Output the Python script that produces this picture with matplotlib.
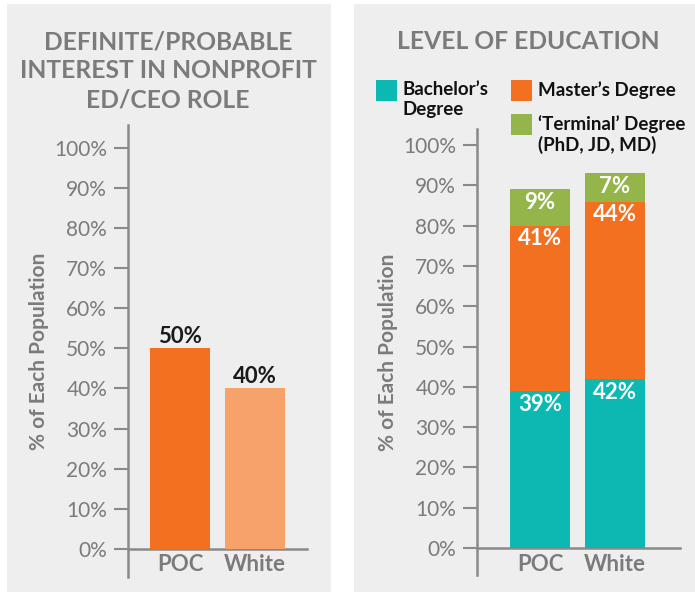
import matplotlib
matplotlib.use("Agg")
import matplotlib.pyplot as plt
from matplotlib.patches import Rectangle
from matplotlib.transforms import blended_transform_factory

plt.rcParams['font.family'] = ['Lato', 'DejaVu Sans']

# ---- data ----
groups = ["POC", "White"]
interest = [50, 40]
bachelor = [39, 42]
master = [41, 44]
terminal = [9, 7]
yticks = [0, 10, 20, 30, 40, 50, 60, 70, 80, 90, 100]
ytick_labels = [f"{v}%" for v in yticks]

W, H = 695, 592
fig = plt.figure(figsize=(W / 100, H / 100), dpi=100)
fig.patch.set_facecolor("white")

BG = "#eeeeee"
GRAY = "#7b7b7b"
AXC = "#8a8a8a"
ORANGE = "#f37021"
LORANGE = "#f7a26a"
TEAL = "#0bb9b2"
GREEN = "#94b54a"


def px(x0, y0, x1, y1):
    return [x0 / W, 1 - y1 / H, (x1 - x0) / W, (y1 - y0) / H]


# panels
fig.patches.append(Rectangle((7 / W, 0), (331 - 7) / W, 1 - 4 / H,
                             transform=fig.transFigure, facecolor=BG, edgecolor="none", zorder=-10))
fig.patches.append(Rectangle((354 / W, 0), (695 - 354) / W, 1 - 4 / H,
                             transform=fig.transFigure, facecolor=BG, edgecolor="none", zorder=-10))


def style_axis(ax, ylo, yhi, xlo, xhi):
    ax.set_facecolor("none")
    ax.set_ylim(ylo, yhi)
    ax.set_xlim(xlo, xhi)
    for s in ["top", "right", "bottom"]:
        ax.spines[s].set_visible(False)
    ax.spines["left"].set_color(AXC)
    ax.spines["left"].set_linewidth(1.8)
    ax.set_yticks(yticks)
    ax.set_yticklabels(ytick_labels)
    ax.tick_params(axis="y", length=10, width=1.5, color=AXC, labelcolor=GRAY,
                   labelsize=15, pad=5)
    ax.set_xticks([])
    tr = blended_transform_factory(ax.transData, ax.transData)
    for i, g in enumerate(groups):
        ax.annotate(g, (i, 0), xytext=(0, -4), textcoords="offset points",
                    ha="center", va="top", fontsize=16, fontweight="bold", color=GRAY)
    ax.axhline(0, color=AXC, lw=1.8, zorder=1, clip_on=False)
    ax.set_ylabel("% of Each Population", fontsize=15, fontweight="bold", color=GRAY, labelpad=4)


# ---- left chart ----
ax1 = fig.add_axes(px(128, 125, 307, 577))
style_axis(ax1, -7, 105.7, -0.693, 1.693)
x = list(range(len(groups)))
ax1.bar(x, interest, width=0.8, color=[ORANGE, LORANGE], zorder=2)
for xi, v in zip(x, interest):
    ax1.annotate(f"{v}%", (xi, v), xytext=(0, 1), textcoords="offset points",
                 ha="center", va="bottom", fontsize=16, fontweight="bold", color="#1a1a1a")
fig.text(168 / W, 1 - 30 / H, "DEFINITE/PROBABLE\nINTEREST IN NONPROFIT\nED/CEO ROLE",
         ha="center", va="top", fontsize=17.7, fontweight="bold", color=GRAY, linespacing=1.33)

# ---- right chart ----
ax2 = fig.add_axes(px(477, 129, 680, 575))
style_axis(ax2, -6.7, 104, -0.84, 1.867)
ax2.bar(x, bachelor, width=0.8, color=TEAL, zorder=2)
ax2.bar(x, master, width=0.8, bottom=bachelor, color=ORANGE, zorder=2)
b2 = [a + b for a, b in zip(bachelor, master)]
ax2.bar(x, terminal, width=0.8, bottom=b2, color=GREEN, zorder=2)
tops = [bachelor, b2, [a + b for a, b in zip(b2, terminal)]]
vals = [bachelor, master, terminal]
for top, val in zip(tops, vals):
    for xi, t, v in zip(x, top, val):
        ax2.annotate(f"{v}%", (xi, t), xytext=(0, -2), textcoords="offset points",
                     ha="center", va="top", fontsize=16, fontweight="bold", color="white")

fig.text(528 / W, 1 - 30 / H, "LEVEL OF EDUCATION", ha="center", va="top",
         fontsize=17.7, fontweight="bold", color=GRAY)

# legend (manual)
leg = [(376, 80, TEAL, "Bachelor’s\nDegree"),
       (511, 80, ORANGE, "Master’s Degree"),
       (511, 114, GREEN, "‘Terminal’ Degree\n(PhD, JD, MD)")]
for lx, ly, c, t in leg:
    fig.patches.append(Rectangle((lx / W, 1 - (ly + 21) / H), 21 / W, 21 / H,
                                 transform=fig.transFigure, facecolor=c, edgecolor="none"))
    fig.text((lx + 27) / W, 1 - (ly + 1) / H, t, ha="left", va="top", fontsize=13.5,
             fontweight="bold", color="#111111", linespacing=1.2)

fig.savefig("out.png", dpi=100, facecolor="white")
